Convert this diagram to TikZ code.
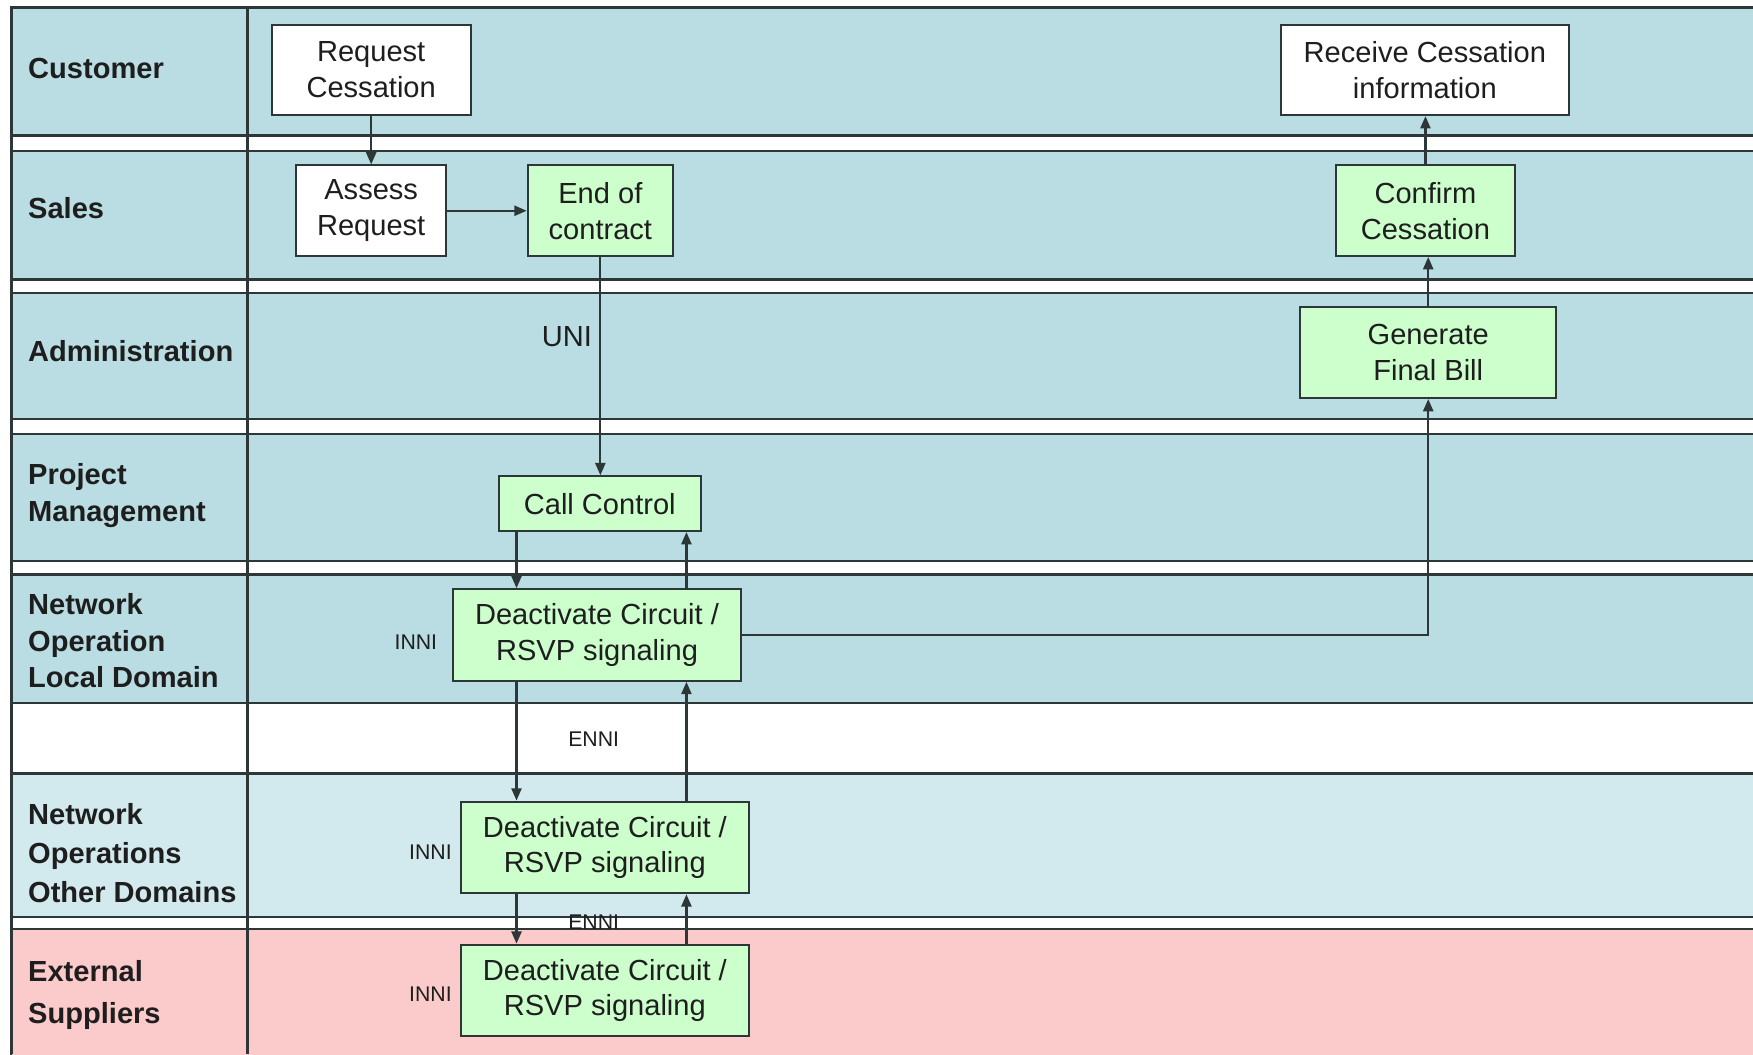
\documentclass[tikz,border=0pt]{standalone}
\usepackage{fontspec}
\setmainfont{Liberation Sans}
\usetikzlibrary{arrows.meta}
\definecolor{laneblue}{RGB}{185,221,226}
\definecolor{lanelight}{RGB}{210,233,237}
\definecolor{lanepink}{RGB}{251,202,202}
\definecolor{boxgreen}{RGB}{204,255,204}
\definecolor{framec}{RGB}{45,55,55}
\definecolor{txt}{RGB}{30,30,30}
\begin{document}
\begin{tikzpicture}[x=1pt,y=-1pt,
  lanebox/.style={draw=framec, line width=2.2pt},
  lanelabel/.style={anchor=west, align=left, inner sep=0pt, text=txt,
     font=\fontsize{26}{33}\selectfont\bfseries},
  proc/.style={draw=framec, line width=1.8pt, fill=boxgreen, align=center,
     inner sep=0pt, text=txt, font=\fontsize{26}{32}\selectfont},
  plainproc/.style={proc, fill=white},
  arr/.style={draw=framec, line width=2pt, -{Triangle[length=11pt,width=9pt]}},
  iflabel/.style={inner sep=0pt, text=txt, font=\fontsize{19}{22}\selectfont},
  unilabel/.style={inner sep=0pt, text=txt, font=\fontsize{26}{30}\selectfont}]
\useasboundingbox (0,0) rectangle (1568,943);
% lanes
\filldraw[lanebox, fill=laneblue] (10,7) rectangle (1580,121);
\filldraw[lanebox, fill=laneblue] (10,135) rectangle (1580,250);
\filldraw[lanebox, fill=laneblue] (10,262) rectangle (1580,375);
\filldraw[lanebox, fill=laneblue] (10,388) rectangle (1580,502);
\filldraw[lanebox, fill=laneblue] (10,514) rectangle (1580,629);
\filldraw[lanebox, fill=white] (10,629) rectangle (1580,692);
\filldraw[lanebox, fill=lanelight] (10,692) rectangle (1580,820);
\filldraw[lanebox, fill=lanepink] (10,831) rectangle (1580,960);
\draw[framec, line width=2.6pt] (10,6) -- (10,943);
\draw[framec, line width=2.6pt] (221,6) -- (221,943);
\draw[framec, line width=2.6pt] (9,7) -- (1580,7);
% lane labels
\node[lanelabel] (lcust) at (25,61) {Customer};
\node[lanelabel] (lsales) at (25,186) {Sales};
\node[lanelabel] (ladmin) at (25,314) {Administration};
\node[lanelabel] (lpm) at (25,443) {Project\\Management};
\node[lanelabel] (lnold) at (25,573) {Network\\Operation\\Local Domain};
\node[lanelabel, font=\fontsize{26}{35}\selectfont\bfseries] (lnood) at (25,763) {Network\\Operations\\Other Domains};
\node[lanelabel, font=\fontsize{26}{38}\selectfont\bfseries] (lext) at (25,890) {External\\Suppliers};
% process boxes
\node[plainproc, minimum width=178pt, minimum height=81pt] (rc) at (332,62.5) {Request\\Cessation};
\node[plainproc, minimum width=257pt, minimum height=81pt] (rci) at (1274.5,62.5) {Receive Cessation\\information};
\node[plainproc, minimum width=134pt, minimum height=81pt] (ar) at (332,188.5) {Assess\\Request};
\node[proc, minimum width=130pt, minimum height=81pt] (eoc) at (537,188.5) {End of\\contract};
\node[proc, minimum width=160pt, minimum height=81pt] (cs) at (1275,188.5) {Confirm\\Cessation};
\node[proc, minimum width=229pt, minimum height=81pt] (gfb) at (1277.5,315.5) {Generate\\Final Bill};
\node[proc, minimum width=181pt, minimum height=49pt] (cc) at (536.5,450.5) {Call Control};
\node[proc, minimum width=258pt, minimum height=82pt] (d1) at (534,568) {Deactivate Circuit /\\RSVP signaling};
\node[proc, minimum width=258pt, minimum height=82pt] (d2) at (541,758) {Deactivate Circuit /\\RSVP signaling};
\node[proc, minimum width=258pt, minimum height=82pt] (d3) at (541,886) {Deactivate Circuit /\\RSVP signaling};
% interface labels
\node[unilabel] (uni) at (507,301) {UNI};
\node[iflabel] (inni1) at (372,574) {INNI};
\node[iflabel] (inni2) at (385,762) {INNI};
\node[iflabel] (inni3) at (385,889) {INNI};
\node[iflabel] (enni1) at (531,661) {ENNI};
\node[iflabel] (enni2) at (531,825) {ENNI};
% helper x positions
\coordinate (xl) at (462,0);
\coordinate (xr) at (614,0);
% connectors
\draw[arr] (rc.south) -- (ar.north);
\draw[arr] (ar.east) -- (eoc.west);
\draw[arr] (eoc.south) -- (eoc.south |- cc.north);
\draw[arr] (cc.south -| xl) -- (d1.north -| xl);
\draw[arr] (d1.north -| xr) -- (cc.south -| xr);
\draw[arr] (d1.south -| xl) -- (d2.north -| xl);
\draw[arr] (d2.north -| xr) -- (d1.south -| xr);
\draw[arr] (d2.south -| xl) -- (d3.north -| xl);
\draw[arr] (d3.north -| xr) -- (d2.south -| xr);
\draw[arr] (d1.east) -- (d1.east -| gfb.south) -- (gfb.south);
\draw[arr] (gfb.north) -- (gfb.north |- cs.south);
\draw[arr] (cs.north) -- (cs.north |- rci.south);
\end{tikzpicture}
\end{document}
